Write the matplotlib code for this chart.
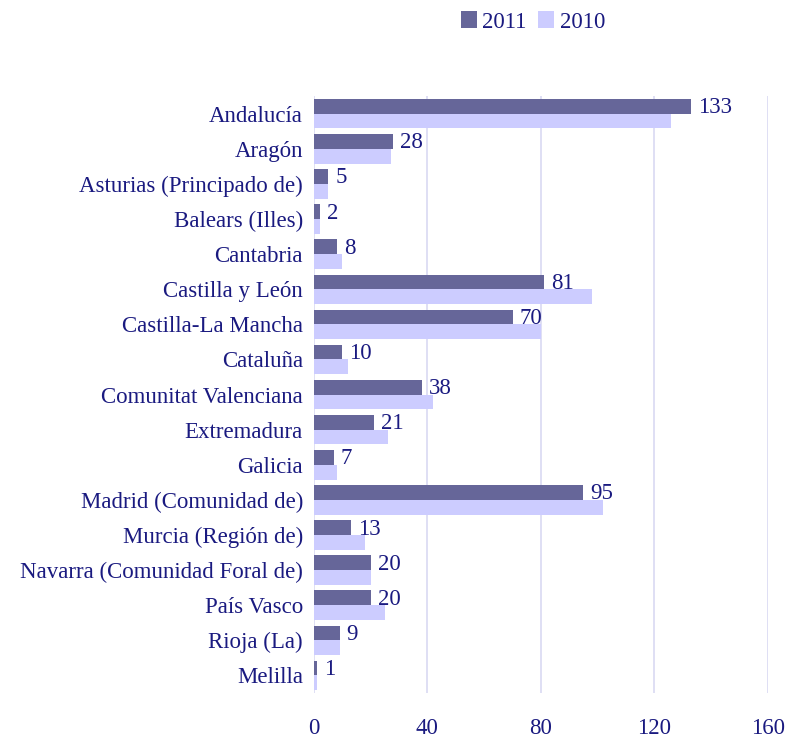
import matplotlib
matplotlib.use("Agg")
import matplotlib.pyplot as plt
from matplotlib.patches import Patch

categories = ["Andalucía", "Aragón", "Asturias (Principado de)", "Balears (Illes)",
              "Cantabria", "Castilla y León", "Castilla-La Mancha", "Cataluña",
              "Comunitat Valenciana", "Extremadura", "Galicia", "Madrid (Comunidad de)",
              "Murcia (Región de)", "Navarra (Comunidad Foral de)", "País Vasco",
              "Rioja (La)", "Melilla"]
values_2011 = [133, 28, 5, 2, 8, 81, 70, 10, 38, 21, 7, 95, 13, 20, 20, 9, 1]
values_2010 = [126, 27, 5, 2, 10, 98, 80, 12, 42, 26, 8, 102, 18, 20, 25, 9, 1]
xticks = [0, 40, 80, 120, 160]

c2011 = "#666699"
c2010 = "#ccccff"
tcol = "#1a1a80"
grid = "#d9d9f2"
font = "Liberation Serif"
fs = 16.5

fig = plt.figure(figsize=(7.85, 7.40), dpi=100)
ax = fig.add_axes([0.4, 0.0635, 0.578, 0.8065])

y = list(range(len(categories)))
h = 0.42
ax.barh([v - h / 2 for v in y], values_2011, height=h, color=c2011, zorder=3)
ax.barh([v + h / 2 for v in y], values_2010, height=h, color=c2010, zorder=3)

for yi, v in zip(y, values_2011):
    ax.text(v + 2.5, yi - 0.17, str(v), va="center", ha="left", color=tcol,
            fontsize=fs, family=font, zorder=4)

ax.set_xlim(0, 160)
ax.set_ylim(16.5, -0.5)
ax.set_xticks(xticks)
ax.set_xticklabels([str(t) for t in xticks], family=font, fontsize=fs, color=tcol)
ax.set_yticks(y)
ax.set_yticklabels(categories, family=font, fontsize=fs, color=tcol)
ax.tick_params(axis="both", length=0)
ax.tick_params(axis="x", pad=18)
ax.tick_params(axis="y", pad=8)
for s in ax.spines.values():
    s.set_visible(False)
ax.xaxis.grid(True, color=grid, linewidth=1.2, zorder=0)
ax.set_axisbelow(True)

handles = [Patch(facecolor=c2011, label="2011"), Patch(facecolor=c2010, label="2010")]
leg = fig.legend(handles=handles, loc="center", bbox_to_anchor=(533 / 785, 1 - 22 / 740),
                 ncol=2, frameon=False, prop={"family": font, "size": fs},
                 handlelength=0.7, handleheight=0.7, handletextpad=0.25, columnspacing=0.5)
for t in leg.get_texts():
    t.set_color(tcol)

fig.savefig("out.png", dpi=100)
